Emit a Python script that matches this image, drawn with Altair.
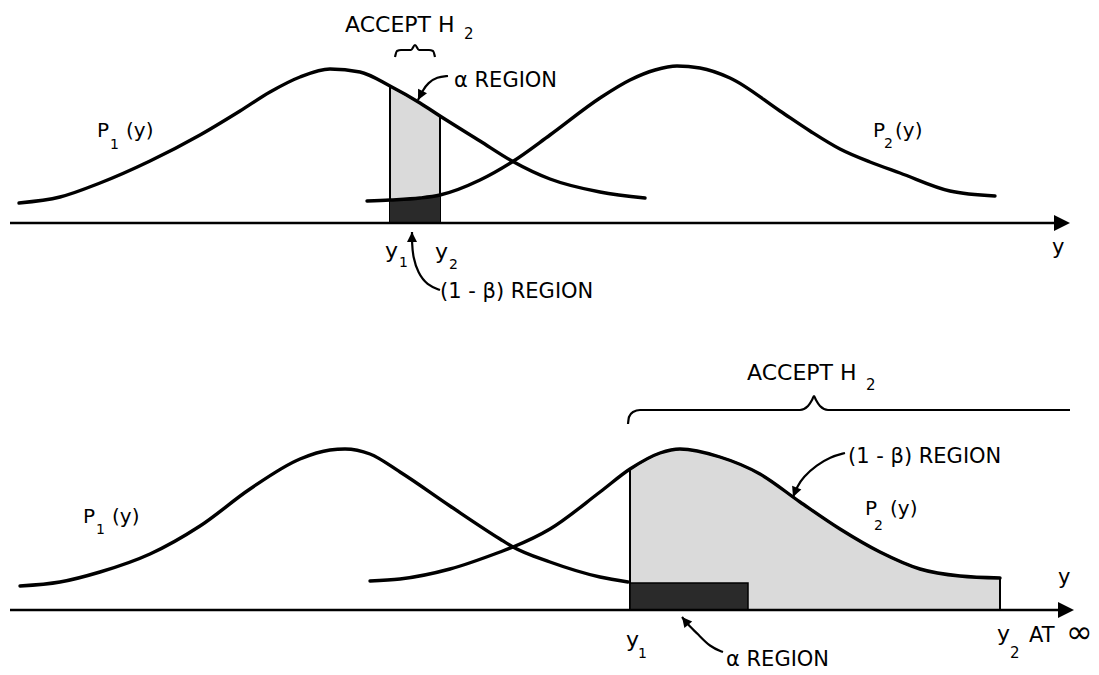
import altair as alt
import pandas as pd

# ---------------------------------------------------------------
# Two decision diagrams: P1(y) and P2(y) with the accept-H2 interval.
# Heights are measured above each panel's y-axis line.
# ---------------------------------------------------------------
W = 1099
TOP_H, BOT_H = 337, 338
TOP_DOMAIN = [-114, 223]
BOT_DOMAIN = [-65, 273]

# ---- upper panel: narrow acceptance interval y1..y2 ----
top_p1_x = [19, 60, 100, 150, 200, 240, 270, 300, 330, 360, 390, 420, 440, 480, 512, 550, 600, 645]
top_p1_h = [20, 26, 40, 62, 88, 112, 131, 146, 154, 151, 137, 120, 107, 82, 62, 44, 31, 25]
top_p2_x = [367, 390, 420, 440, 480, 512, 550, 600, 630, 655, 677, 700, 730, 780, 810, 840, 870, 900, 950, 995]
top_p2_h = [22, 23, 25, 28, 43, 61, 88, 125, 143, 153, 157, 155, 145, 112, 92, 74, 61, 50, 32, 27]
top_y1, top_y2 = 390, 440

# ---- lower panel: acceptance from y1 out to infinity ----
bot_p1_x = [20, 60, 100, 150, 200, 250, 300, 330, 345, 370, 400, 450, 500, 513, 550, 600, 628]
bot_p1_h = [24, 28, 38, 56, 84, 121, 151, 160, 161, 156, 138, 104, 71, 63, 48, 33, 28]
bot_p2_x = [370, 400, 450, 500, 513, 550, 600, 630, 660, 680, 720, 760, 800, 840, 880, 920, 960, 1000]
bot_p2_h = [29, 31, 41, 58, 63, 81, 118, 141, 157, 161, 153, 136, 108, 81, 58, 41, 34, 32]
bot_y1, bot_y2 = 630, 1000
bot_alpha_x2, bot_alpha_h = 748, 27

# ---- axis lines (start, end of shaft, arrow tip) ----
top_axis = [10, 1058, 1070]
bot_axis = [10, 1062, 1074]

# ---- braces over the acceptance interval ----
top_brace_x = [395, 397, 401, 411, 415, 419, 429, 433, 435]
top_brace_y = [166, 172, 173, 173, 178, 173, 173, 172, 166]
bot_brace_x = [628, 629, 633, 640, 800, 808, 812, 814, 816, 820, 828, 1070]
bot_brace_y = [186, 193, 198, 200, 200, 204, 210, 214, 210, 204, 200, 200]

# ---- pointer arrows (path points; last point is the tip) ----
top_arrow_a_x = [448, 437, 428, 423, 418]
top_arrow_a_y = [147, 146, 140, 133, 123]
top_arrow_b_x = [440, 427, 418, 413, 412, 412]
top_arrow_b_y = [-67, -62, -50, -34, -20, -9]
bot_arrow_a_x = [845, 830, 817, 803, 797, 793]
bot_arrow_a_y = [157, 153, 145, 133, 123, 113]
bot_arrow_b_x = [723, 710, 697, 690, 682]
bot_arrow_b_y = [-42, -37, -23, -17, -7]
top_tip_angle = [117, 270]
bot_tip_angle = [112, 231]

# ---- lettering ----
top_text = ["ACCEPT H", "2", "\u03b1 REGION", "(1 - \u03b2)  REGION",
            "P", "1", "(y)", "P", "2", "(y)", "y", "1", "y", "2", "y"]
top_text_x = [345, 464, 454, 440, 97, 110, 126, 873, 884, 895, 385, 399, 435, 449, 1052]
top_text_y = [191, 184, 136, -75, 86, 74, 86, 86, 75, 86, -35, -44, -36, -46, -31]
top_text_s = [22, 15, 21, 21, 20, 14, 20, 20, 14, 20, 22, 14, 22, 14, 21]

bot_text = ["ACCEPT H", "2", "(1 - \u03b2)  REGION", "P", "1", "(y)", "P", "2", "(y)",
            "y", "y", "1", "\u03b1 REGION", "y", "2", "AT", "\u221e"]
bot_text_x = [747, 866, 848, 83, 96, 112, 865, 874, 890, 1058, 626, 638, 726, 997, 1010, 1029, 1066]
bot_text_y = [230, 220, 147, 87, 76, 87, 95, 80, 95, 26, -37, -48, -56, -31, -48, -32, -33]
bot_text_s = [22, 15, 21, 20, 14, 20, 20, 14, 20, 21, 22, 14, 21, 22, 15, 21, 32]

LIGHT = "#dadada"
DARK = "#2a2a2a"
ARROW_SHAPE = "M0,0L-1,-0.5L-1,0.5Z"
xs = alt.Scale(domain=[0, W], nice=False, zero=False)


def X(field="x"):
    return alt.X(f"{field}:Q", scale=xs, axis=None)


def Y(dom, field="h"):
    return alt.Y(f"{field}:Q", scale=alt.Scale(domain=dom, nice=False, zero=False), axis=None)


def curve(xv, hv):
    return pd.DataFrame({"x": xv, "h": hv})


def paths(*pairs):
    rows = []
    for k, (px, py) in enumerate(pairs):
        for i, (a, b) in enumerate(zip(px, py)):
            rows.append({"id": k, "i": i, "x": a, "h": b})
    return pd.DataFrame(rows)


def tips(pairs, angles):
    return pd.DataFrame({"x": [p[0][-1] for p in pairs],
                         "h": [p[1][-1] for p in pairs],
                         "ang": angles})


def panel(dom, height, p1, p2, fills, axis, brace, arrows, angles, texts):
    layers = list(fills)
    # density curves
    for c in (p1, p2):
        layers.append(alt.Chart(c).mark_line(interpolate="monotone", color="black",
                                             strokeWidth=3.4, strokeCap="round")
                      .encode(x=X(), y=Y(dom)))
    # horizontal axis and its arrow
    ax = pd.DataFrame({"x": [axis[0]], "x2": [axis[1]], "h": [0]})
    layers.append(alt.Chart(ax).mark_rule(color="black", strokeWidth=2.4)
                  .encode(x=X(), x2="x2:Q", y=Y(dom)))
    layers.append(alt.Chart(pd.DataFrame({"x": [axis[2]], "h": [0]}))
                  .mark_point(shape=ARROW_SHAPE, filled=True, color="black", opacity=1, size=1024)
                  .encode(x=X(), y=Y(dom)))
    # brace
    layers.append(alt.Chart(paths(brace)).mark_line(interpolate="monotone", color="black",
                                                    strokeWidth=2.2)
                  .encode(x=X(), y=Y(dom), order="i:Q"))
    # pointer arrows
    layers.append(alt.Chart(paths(*arrows)).mark_line(interpolate="basis", color="black",
                                                      strokeWidth=2.2)
                  .encode(x=X(), y=Y(dom), detail="id:N", order="i:Q"))
    layers.append(alt.Chart(tips(arrows, angles))
                  .mark_point(shape=ARROW_SHAPE, filled=True, color="black", opacity=1, size=400)
                  .encode(x=X(), y=Y(dom), angle=alt.Angle("ang:Q", scale=None)))
    # lettering
    layers.append(alt.Chart(texts).mark_text(align="left", baseline="alphabetic",
                                             font="DejaVu Sans", color="black")
                  .encode(x=X(), y=Y(dom), text="t:N", size=alt.Size("s:Q", scale=None)))
    return alt.layer(*layers).properties(width=W, height=height)


# ---- upper panel fills ----
tp1 = curve(top_p1_x, top_p1_h)
tp2 = curve(top_p2_x, top_p2_h)
top_light = (alt.Chart(tp1)
             .transform_filter((alt.datum.x >= top_y1) & (alt.datum.x <= top_y2))
             .mark_area(interpolate="monotone", color=LIGHT, stroke="black", strokeWidth=2)
             .encode(x=X(), y=Y(TOP_DOMAIN), y2=alt.datum(0)))
top_dark = (alt.Chart(tp2)
            .transform_filter((alt.datum.x >= top_y1) & (alt.datum.x <= top_y2))
            .mark_area(interpolate="monotone", color=DARK)
            .encode(x=X(), y=Y(TOP_DOMAIN), y2=alt.datum(0)))
top_labels = pd.DataFrame({"t": top_text, "x": top_text_x, "h": top_text_y, "s": top_text_s})

top = panel(TOP_DOMAIN, TOP_H, tp1, tp2, [top_light, top_dark], top_axis,
            (top_brace_x, top_brace_y),
            [(top_arrow_a_x, top_arrow_a_y), (top_arrow_b_x, top_arrow_b_y)],
            top_tip_angle, top_labels)

# ---- lower panel fills ----
bp1 = curve(bot_p1_x, bot_p1_h)
bp2 = curve(bot_p2_x, bot_p2_h)
bot_light = (alt.Chart(bp2)
             .transform_filter((alt.datum.x >= bot_y1) & (alt.datum.x <= bot_y2))
             .mark_area(interpolate="monotone", color=LIGHT, stroke="black", strokeWidth=2)
             .encode(x=X(), y=Y(BOT_DOMAIN), y2=alt.datum(0)))
bot_dark = (alt.Chart(pd.DataFrame({"x": [bot_y1], "x2": [bot_alpha_x2], "h": [bot_alpha_h]}))
            .mark_rect(color=DARK, stroke="black", strokeWidth=1.5)
            .encode(x=X(), x2="x2:Q", y=Y(BOT_DOMAIN), y2=alt.datum(0)))
bot_labels = pd.DataFrame({"t": bot_text, "x": bot_text_x, "h": bot_text_y, "s": bot_text_s})

bottom = panel(BOT_DOMAIN, BOT_H, bp1, bp2, [bot_light, bot_dark], bot_axis,
               (bot_brace_x, bot_brace_y),
               [(bot_arrow_a_x, bot_arrow_a_y), (bot_arrow_b_x, bot_arrow_b_y)],
               bot_tip_angle, bot_labels)

chart = (alt.vconcat(top, bottom, spacing=0)
         .properties(padding=0, background="white")
         .configure_view(stroke=None))

chart.save("out.html", embed_options={"renderer": "svg", "actions": False})
